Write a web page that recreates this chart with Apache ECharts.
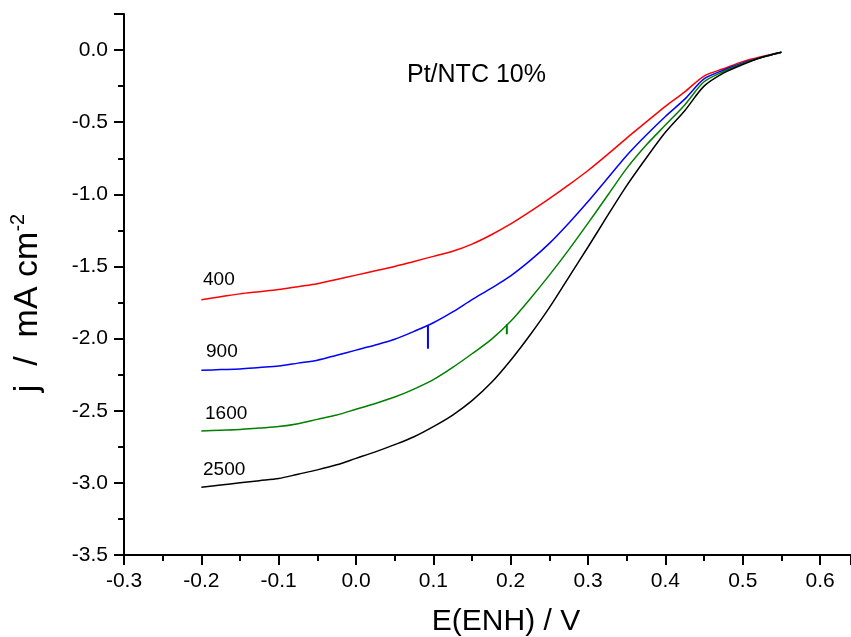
<!DOCTYPE html>
<html>
<head>
<meta charset="utf-8">
<script src="https://cdn.jsdelivr.net/npm/echarts@6/dist/echarts.min.js"></script>
<style>html,body{margin:0;padding:0;background:#fff}#c{width:851px;height:637px}</style>
</head>
<body>
<div id="c"></div>
<script>
const E = [-0.2,-0.175,-0.15,-0.125,-0.1,-0.075,-0.05,-0.025,0,0.025,0.05,0.075,0.1,0.125,0.15,0.175,0.2,0.225,0.25,0.275,0.3,0.325,0.35,0.375,0.4,0.425,0.45,0.475,0.5,0.525,0.55];
const j400  = [-1.73,-1.71,-1.69,-1.675,-1.66,-1.64,-1.62,-1.59,-1.56,-1.53,-1.50,-1.465,-1.43,-1.395,-1.345,-1.28,-1.205,-1.12,-1.03,-0.935,-0.835,-0.725,-0.61,-0.50,-0.39,-0.29,-0.18,-0.13,-0.08,-0.045,-0.015];
const j900  = [-2.22,-2.215,-2.21,-2.20,-2.19,-2.17,-2.15,-2.115,-2.08,-2.045,-2.005,-1.95,-1.89,-1.815,-1.73,-1.65,-1.565,-1.46,-1.34,-1.20,-1.05,-0.89,-0.73,-0.59,-0.46,-0.34,-0.20,-0.14,-0.09,-0.05,-0.015];
const j1600 = [-2.64,-2.635,-2.63,-2.62,-2.61,-2.59,-2.56,-2.53,-2.49,-2.45,-2.405,-2.35,-2.285,-2.20,-2.105,-2.005,-1.88,-1.725,-1.56,-1.385,-1.20,-1.01,-0.82,-0.66,-0.52,-0.38,-0.22,-0.15,-0.095,-0.05,-0.015];
const j2500 = [-3.03,-3.015,-3.00,-2.985,-2.97,-2.94,-2.91,-2.875,-2.83,-2.785,-2.735,-2.68,-2.61,-2.53,-2.43,-2.305,-2.15,-1.975,-1.785,-1.575,-1.365,-1.15,-0.94,-0.75,-0.57,-0.42,-0.25,-0.16,-0.10,-0.05,-0.015];
const spike900  = [[0.093,-1.91],[0.093,-2.07]];
const spike1600 = [[0.195,-1.90],[0.195,-1.97]];
const rpmLabels = ['400','900','1600','2500'];
const colors = ['#ff0000','#0000ff','#008000','#000000'];
const title = 'Pt/NTC 10%';
const xName = 'E(ENH) / V';

const FONT = '"Liberation Sans", Arial, sans-serif';
const chart = echarts.init(document.getElementById('c'));
const series = [j400,j900,j1600,j2500].map((arr,k)=>({
  type:'line', data:E.map((e,i)=>[e,arr[i]]), showSymbol:false, smooth:0.3,
  lineStyle:{color:colors[k], width:1.5}, z:2+k, animation:false
}));
series.push({type:'line', data:spike900, showSymbol:false, lineStyle:{color:colors[1], width:2}, animation:false});
series.push({type:'line', data:spike1600, showSymbol:false, lineStyle:{color:colors[2], width:2}, animation:false});

const labelPos = [[203,280],[206,352],[205,414],[203,470]];
const graphics = rpmLabels.map((t,k)=>({
  type:'text', style:{text:t, x:labelPos[k][0], y:labelPos[k][1], fontSize:19, fontFamily:FONT, fill:'#000', textVerticalAlign:'middle', textAlign:'left'}
}));
graphics.push({type:'text', style:{text:title, x:407, y:75, fontSize:25, fontFamily:FONT, fill:'#000', textVerticalAlign:'middle'}});
graphics.push({type:'text', style:{text:xName, x:506, y:622, fontSize:30, fontFamily:FONT, fill:'#000', textAlign:'center', textVerticalAlign:'middle'}});
graphics.push({type:'text', x:28, y:303, rotation:Math.PI/2, style:{
  text:'{a|j  /  mA cm}{s|-2}', x:0, y:0, textAlign:'center', textVerticalAlign:'middle',
  rich:{a:{fontSize:34, fontFamily:FONT, fill:'#000', lineHeight:40}, s:{fontSize:20, fontFamily:FONT, fill:'#000', verticalAlign:'top', lineHeight:40}}
}});

function makeAxis(extra){
  return Object.assign({
    type:'value',
    axisLine:{show:true, onZero:false, lineStyle:{color:'#000', width:2}},
    axisTick:{show:true, inside:false, length:10, lineStyle:{color:'#000', width:2}},
    minorTick:{show:true, splitNumber:2, length:6, lineStyle:{color:'#000', width:2}},
    splitLine:{show:false}, minorSplitLine:{show:false},
    axisLabel:{fontSize:21, fontFamily:FONT, color:'#000', margin:16, showMaxLabel:false, formatter:v=>v.toFixed(1)}
  }, extra);
}
chart.setOption({
  animation:false,
  grid:{left:124, right:0, top:14, bottom:82, containLabel:false},
  xAxis:makeAxis({min:-0.3, max:0.64, interval:0.1}),
  yAxis:makeAxis({min:-3.5, max:0.25, interval:0.5}),
  series:series,
  graphic:graphics
});
</script>
</body>
</html>
